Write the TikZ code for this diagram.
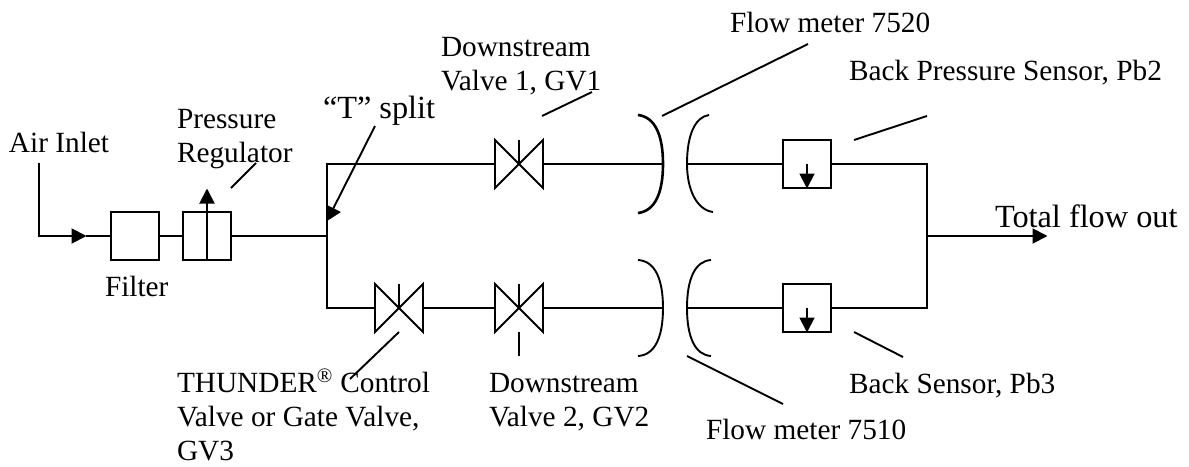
\documentclass[tikz,border=0pt]{standalone}
\usepackage{fontspec}
\setmainfont{Liberation Serif}
\usetikzlibrary{arrows.meta}
\tikzset{
	pipe/.style={line width=1.9pt},
	flowtip/.style={pipe, line join=miter, -{Triangle[length=15pt,width=15pt]}, shorten >=-0.5pt},
	partbox/.style={draw, line width=1.9pt, minimum size=48pt, inner sep=0pt, outer sep=0pt},
	valvebox/.style={minimum size=48pt, inner sep=0pt, outer sep=0pt},
	lbl/.style={anchor=base west, inner sep=0pt, outer sep=0pt, align=left, font=\fontsize{29.3}{34}\selectfont},
	biglbl/.style={lbl, font=\fontsize{32.3}{36}\selectfont}
}
\begin{document}
\begin{tikzpicture}[x=1pt, y=-1pt]
		\useasboundingbox (0,0) rectangle (1189,466);
		%air inlet and first parts
		\node[partbox] (filter) at (135, 236) {};
		\node[partbox] (regulator) at (207, 236) {};
		\coordinate (airstart) at (39, 163);
		\coordinate (airbend) at (39, 236);
		\coordinate (airtip) at (86, 236);
		\coordinate (regtop) at (207, 189);
		\coordinate (split) at (327, 236);
		\coordinate (splittop) at (327, 164);
		\coordinate (splitbot) at (327, 308);
		\draw[flowtip] (airstart) -- (airbend) -- (airtip);
		\draw[pipe] (airtip) -- (filter.west);
		\draw[pipe] (filter.east) -- (regulator.west);
		\draw[flowtip] (regulator.south) -- (regtop);
		\draw[pipe] (regulator.east) -- (split);

		%valves
		\node[valvebox] (gvone) at (519, 164) {};
		\node[valvebox] (gvtwo) at (519, 308) {};
		\node[valvebox] (gvthree) at (399, 308) {};
		\foreach \v in {gvone, gvtwo, gvthree}{
			\draw[pipe, line join=miter] (\v.south west) -- (\v.north west) -- (\v.south east) -- (\v.north east) -- cycle;
			\draw[pipe] (\v.center) -- (\v.north);
		}

		%flow meters
		\coordinate (fmtopin) at (663, 164);
		\coordinate (fmtopout) at (687, 164);
		\coordinate (fmbotin) at (663, 308);
		\coordinate (fmbotout) at (687, 308);
		\draw[line width=2.6pt] (fmtopin) .. controls (663, 135) and (655, 117) .. (638, 115);
		\draw[line width=2.6pt] (fmtopin) .. controls (663, 193) and (655, 211) .. (638, 213);
		\draw[pipe] (fmtopout) .. controls (687, 135) and (695, 117) .. (709, 115);
		\draw[pipe] (fmtopout) .. controls (687, 190) and (697, 210) .. (713, 212);
		\draw[pipe] (fmbotin) .. controls (663, 279) and (655, 261) .. (638, 260);
		\draw[pipe] (fmbotin) .. controls (663, 337) and (655, 355) .. (638, 356);
		\draw[pipe] (fmbotout) .. controls (687, 279) and (695, 261) .. (711, 260);
		\draw[pipe] (fmbotout) .. controls (687, 337) and (695, 355) .. (711, 356);

		%sensors
		\node[partbox] (pbtwo) at (807, 164) {};
		\node[partbox] (pbthree) at (807, 308) {};
		\foreach \s in {pbtwo, pbthree}{
			\draw[flowtip] (\s.center) -- (\s.south);
		}

		%pipes between the parts
		\coordinate (jointop) at (927, 164);
		\coordinate (jointbot) at (927, 308);
		\coordinate (jointmid) at (927, 236);
		\coordinate (outtip) at (1047, 236);
		\draw[pipe, line join=miter] (gvone.west) -- (splittop) -- (splitbot) -- (gvthree.west);
		\draw[pipe] (gvone.east) -- (fmtopin);
		\draw[pipe] (fmtopout) -- (pbtwo.west);
		\draw[pipe, line join=miter] (pbtwo.east) -- (jointop) -- (jointbot) -- (pbthree.east);
		\draw[pipe] (gvthree.east) -- (gvtwo.west);
		\draw[pipe] (gvtwo.east) -- (fmbotin);
		\draw[pipe] (fmbotout) -- (pbthree.west);
		\draw[flowtip] (jointmid) -- (outtip);

		%labels
		\node[lbl] (airlbl) at (9, 152) {Air Inlet};
		\node[lbl] (filterlbl) at (105, 296) {Filter};
		\node[lbl] (reglbl) at (177, 162) {Pressure\\Regulator};
		\node[biglbl] (splitlbl) at (323, 118) {“T” split};
		\node[lbl] (gvonelbl) at (441, 90) {Downstream\\Valve 1, GV1};
		\node[lbl] (fmtoplbl) at (730, 32) {Flow meter 7520};
		\node[lbl] (pbtwolbl) at (849, 80) {Back Pressure Sensor, Pb2};
		\node[biglbl] (outlbl) at (995, 227) {Total flow out};
		\node[lbl] (pbthreelbl) at (849, 393) {Back Sensor, Pb3};
		\node[lbl] (fmbotlbl) at (706, 439) {Flow meter 7510};
		\node[lbl] (gvtwolbl) at (489, 426) {Downstream\\Valve 2, GV2};
		\node[lbl] (gvthreelbl) at (177, 460) {THUNDER\textsuperscript{®} Control\\Valve or Gate Valve,\\GV3};

		%leader lines
		\coordinate (regleada) at (256, 163);
		\coordinate (regleadb) at (231, 188);
		\coordinate (splitleada) at (375, 126);
		\coordinate (splitleadb) at (333, 209);
		\coordinate (gvoneleada) at (542, 116);
		\coordinate (gvoneleadb) at (592, 92);
		\coordinate (fmtopleada) at (662, 116);
		\coordinate (fmtopleadb) at (808, 44);
		\coordinate (pbtwoleada) at (854, 140);
		\coordinate (pbtwoleadb) at (927, 116);
		\coordinate (pbthreeleada) at (854, 332);
		\coordinate (pbthreeleadb) at (903, 357);
		\coordinate (fmbotleada) at (687, 356);
		\coordinate (fmbotleadb) at (783, 404);
		\coordinate (gvtwolead) at (519, 356);
		\coordinate (gvthreelead) at (350, 379);
		\draw[pipe] (regleada) -- (regleadb);
		\draw[pipe] (splitleada) -- (splitleadb);
		\fill (327, 205) -- (341, 212) -- (327, 221) -- cycle;
		\draw[pipe] (gvoneleada) -- (gvoneleadb);
		\draw[pipe] (fmtopleada) -- (fmtopleadb);
		\draw[pipe] (pbtwoleada) -- (pbtwoleadb);
		\draw[pipe] (pbthreeleada) -- (pbthreeleadb);
		\draw[pipe] (fmbotleada) -- (fmbotleadb);
		\draw[pipe] (gvtwo.south) -- (gvtwolead);
		\draw[pipe] (gvthree.south) -- (gvthreelead);
		\end{tikzpicture}
\end{document}
